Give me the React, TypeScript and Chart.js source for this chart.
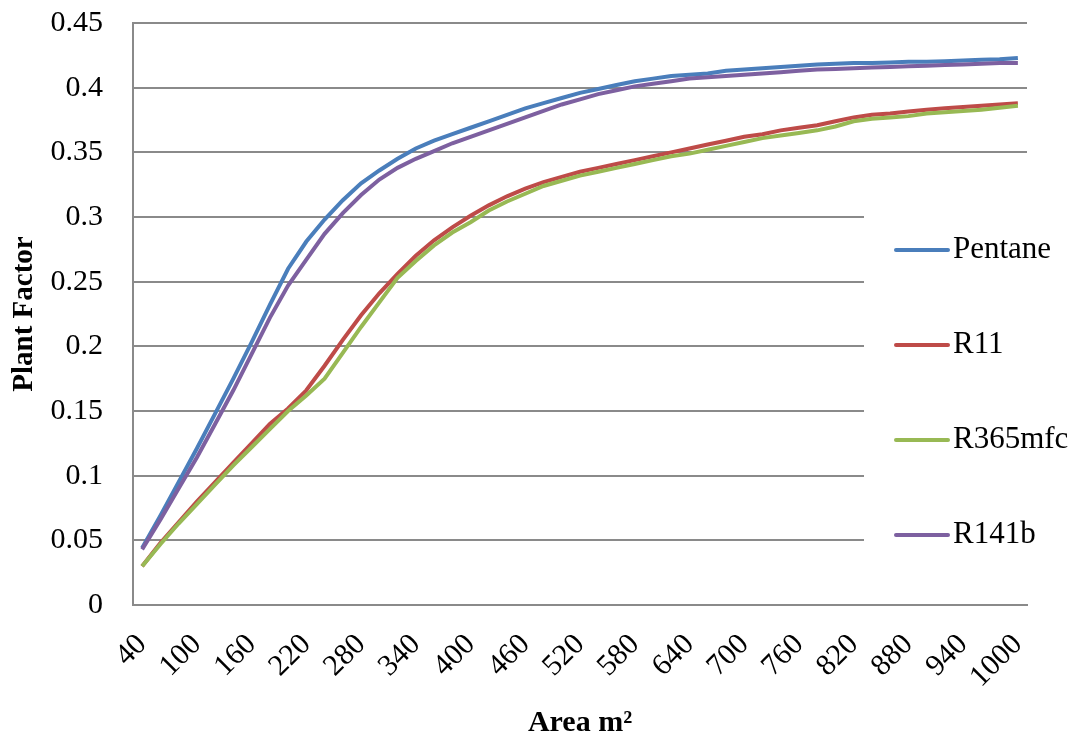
import React, { useEffect, useRef } from "react";
import { Chart, registerables } from "chart.js";

Chart.register(...registerables);

const categories = [
  "40", "60", "80", "100", "120", "140", "160", "180", "200", "220",
  "240", "260", "280", "300", "320", "340", "360", "380", "400", "420",
  "440", "460", "480", "500", "520", "540", "560", "580", "600", "620",
  "640", "660", "680", "700", "720", "740", "760", "780", "800", "820",
  "840", "860", "880", "900", "920", "940", "960", "980", "1000",
];

const pentane = [
  0.044, 0.069, 0.095, 0.121, 0.148, 0.175, 0.203, 0.232, 0.26, 0.281,
  0.298, 0.313, 0.326, 0.336, 0.345, 0.353, 0.359, 0.364, 0.369, 0.374,
  0.379, 0.384, 0.388, 0.392, 0.396, 0.399, 0.402, 0.405, 0.407, 0.409,
  0.41, 0.411, 0.413, 0.414, 0.415, 0.416, 0.417, 0.418, 0.4185, 0.419,
  0.419, 0.4195, 0.42, 0.42, 0.4205, 0.421, 0.4215, 0.422, 0.423,
];

const r11 = [
  0.03, 0.048, 0.064, 0.08, 0.095, 0.11, 0.125, 0.14, 0.152, 0.166,
  0.185, 0.205, 0.224, 0.241, 0.256, 0.27, 0.282, 0.292, 0.301, 0.309,
  0.316, 0.322, 0.327, 0.331, 0.335, 0.338, 0.341, 0.344, 0.347, 0.35,
  0.353, 0.356, 0.359, 0.362, 0.364, 0.367, 0.369, 0.371, 0.374, 0.377,
  0.379, 0.38, 0.3815, 0.383, 0.384, 0.385, 0.386, 0.387, 0.388,
];

const r365mfc = [
  0.03, 0.047, 0.063, 0.078, 0.093, 0.108, 0.122, 0.136, 0.15, 0.162,
  0.175, 0.195, 0.215, 0.234, 0.253, 0.266, 0.278, 0.288, 0.296, 0.305,
  0.312, 0.318, 0.324, 0.328, 0.332, 0.335, 0.338, 0.341, 0.344, 0.347,
  0.349, 0.352, 0.355, 0.358, 0.361, 0.363, 0.365, 0.367, 0.37, 0.374,
  0.376, 0.377, 0.378, 0.38, 0.381, 0.382, 0.383, 0.3845, 0.386,
];

const r141b = [
  0.043, 0.066, 0.09, 0.114, 0.14, 0.166, 0.194, 0.222, 0.247, 0.267,
  0.287, 0.303, 0.317, 0.329, 0.338, 0.345, 0.351, 0.357, 0.362, 0.367,
  0.372, 0.377, 0.382, 0.387, 0.391, 0.395, 0.398, 0.401, 0.403, 0.405,
  0.407, 0.408, 0.409, 0.41, 0.411, 0.412, 0.413, 0.414, 0.4145, 0.415,
  0.4155, 0.416, 0.4165, 0.417, 0.4175, 0.418, 0.4185, 0.419, 0.419,
];

const seriesNames = ["Pentane", "R11", "R365mfc", "R141b"];

const FONT = "'Liberation Serif', 'Times New Roman', serif";
const COLORS = ["#4A7EBB", "#BE4B48", "#98B954", "#7D60A0"];
const GRID = "#8a8a8a";

const insideLegend = {
  id: "insideLegend",
  beforeDatasetsDraw(chart: any) {
    const ctx = chart.ctx;
    const area = chart.chartArea;
    ctx.save();
    ctx.fillStyle = "#ffffff";
    ctx.fillRect(864, 172, area.right - 864 + 4, 418);
    ctx.font = `31px ${FONT}`;
    ctx.textBaseline = "middle";
    ctx.textAlign = "left";
    chart.data.datasets.forEach((ds: any, i: number) => {
      const y = 250 + i * 95;
      ctx.strokeStyle = ds.borderColor;
      ctx.lineWidth = 4;
      ctx.lineCap = "round";
      ctx.beginPath();
      ctx.moveTo(896, y);
      ctx.lineTo(948, y);
      ctx.stroke();
      ctx.fillStyle = "#000000";
      ctx.fillText(ds.label, 953, y);
    });
    ctx.restore();
  },
};

export default function App() {
  const canvasRef = useRef<HTMLCanvasElement | null>(null);

  useEffect(() => {
    const canvas = canvasRef.current;
    if (!canvas) return;
    const series = [pentane, r11, r365mfc, r141b];
    const chart = new Chart(canvas, {
      type: "line",
      data: {
        labels: categories,
        datasets: series.map((values, i) => ({
          label: seriesNames[i],
          data: values,
          borderColor: COLORS[i],
          backgroundColor: COLORS[i],
          borderWidth: 4,
          pointRadius: 0,
          tension: 0,
          fill: false,
          order: series.length - i,
        })),
      },
      options: {
        responsive: false,
        animation: false,
        layout: { padding: { top: 23, right: 53, bottom: 0, left: 0 } },
        plugins: {
          legend: { display: false },
          tooltip: { enabled: false },
          title: { display: false },
        },
        scales: {
          x: {
            type: "category",
            offset: true,
            grid: { display: false, drawTicks: false },
            border: { display: true, color: GRID, width: 2 },
            ticks: {
              autoSkip: false,
              maxRotation: 45,
              minRotation: 45,
              padding: 22,
              color: "#000000",
              font: { family: FONT, size: 30 },
              callback: (_v: any, idx: number) => (idx % 3 === 0 ? categories[idx] : ""),
            },
            title: {
              display: true,
              text: "Area m²",
              color: "#000000",
              font: { family: FONT, size: 30, weight: "bold", lineHeight: 1 },
              padding: { top: 0, bottom: 0 },
            },
            afterFit: (scale: any) => {
              scale.height = 133;
              scale.paddingLeft = 0;
              scale.paddingRight = 0;
            },
          },
          y: {
            min: 0,
            max: 0.45,
            grid: { display: true, color: GRID, lineWidth: 2, drawTicks: false },
            border: { display: true, color: GRID, width: 2 },
            ticks: {
              stepSize: 0.05,
              padding: 30,
              color: "#000000",
              font: { family: FONT, size: 30 },
              callback: (v: any) => String(Math.round(Number(v) * 100) / 100),
            },
            title: {
              display: true,
              text: "Plant Factor",
              color: "#000000",
              font: { family: FONT, size: 29, weight: "bold", lineHeight: 1.2 },
              padding: { top: 7, bottom: 0 },
            },
            afterFit: (scale: any) => {
              scale.width = 133;
              scale.paddingTop = 0;
              scale.paddingBottom = 0;
            },
          },
        },
      },
      plugins: [insideLegend],
    });
    return () => {
      chart.destroy();
    };
  }, []);

  return (
    <div style={{ position: "fixed", left: 0, top: 0, width: 1080, height: 738, background: "#ffffff" }}>
      <canvas ref={canvasRef} width={1080} height={738} />
    </div>
  );
}
